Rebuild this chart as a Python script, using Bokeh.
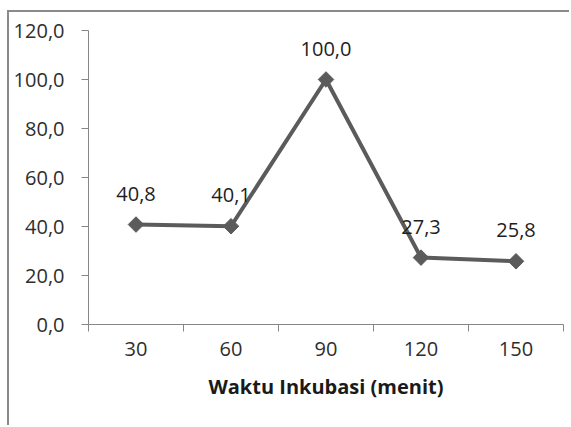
import math
from bokeh.plotting import figure
from bokeh.models import FixedTicker, Range1d, ColumnDataSource
from bokeh.core.properties import value
from bokeh.embed import file_html
from bokeh.resources import INLINE

# Incubation time categories (minutes) and measured values (%)
categories = ["30", "60", "90", "120", "150"]
values = [40.8, 40.1, 100.0, 27.3, 25.8]
y_ticks = [0, 20, 40, 60, 80, 100, 120]

FONT = "Open Sans"
TEXT = "#2e2e2e"
AXIS = "#868686"
SERIES = "#5b5b5b"

def fmt(v):
    return f"{v:.1f}".replace(".", ",")

xs = [i + 0.5 for i in range(len(categories))]
src = ColumnDataSource(dict(x=xs, y=values, lab=[fmt(v) for v in values]))

p = figure(width=562, height=415, output_backend="svg", toolbar_location=None,
           x_range=Range1d(0, len(categories)), y_range=Range1d(0, 120),
           min_border_left=79, min_border_right=8, min_border_top=18,
           min_border_bottom=103)
p.styles = {"margin-left": "7px", "margin-top": "10px",
            "border-left": "2px solid #8a8a8a", "border-top": "2px solid #8a8a8a"}
p.outline_line_color = None
p.grid.visible = False
p.background_fill_color = "white"

# x axis: tick marks on category boundaries, labels at category centres
xa = p.xaxis[0]
xa.ticker = FixedTicker(ticks=xs, minor_ticks=list(range(len(categories) + 1)))
xa.major_label_overrides = {x: c for x, c in zip(xs, categories)}
xa.major_tick_out = 0
xa.major_tick_in = 0
xa.minor_tick_out = 7
xa.minor_tick_in = 0
xa.minor_tick_line_color = AXIS
xa.axis_line_color = AXIS
xa.major_label_text_font = FONT
xa.major_label_text_font_size = "20px"
xa.major_label_text_color = TEXT
xa.major_label_standoff = 10
xa.axis_label = "Waktu Inkubasi (menit)"
xa.axis_label_text_font = FONT
xa.axis_label_text_font_size = "20px"
xa.axis_label_text_font_style = "bold"
xa.axis_label_text_color = "#1a1a1a"
xa.axis_label_standoff = 14

ya = p.yaxis[0]
ya.ticker = FixedTicker(ticks=y_ticks, minor_ticks=[])
ya.major_label_overrides = {t: fmt(t) for t in y_ticks}
ya.major_tick_out = 7
ya.major_tick_in = 0
ya.major_tick_line_color = AXIS
ya.axis_line_color = AXIS
ya.major_label_text_font = FONT
ya.major_label_text_font_size = "20px"
ya.major_label_text_color = TEXT
ya.major_label_standoff = 17

p.line("x", "y", source=src, line_color=SERIES, line_width=4)
p.scatter("x", "y", source=src, marker="square", angle=math.pi / 4, size=11,
          fill_color=SERIES, line_color=SERIES)
p.text("x", "y", text="lab", source=src, y_offset=-31, text_align="center",
       text_baseline="middle", text_font=value(FONT), text_font_size="20px",
       text_color="#1e1e1e")

open("out.html", "w").write(file_html(p, INLINE))
